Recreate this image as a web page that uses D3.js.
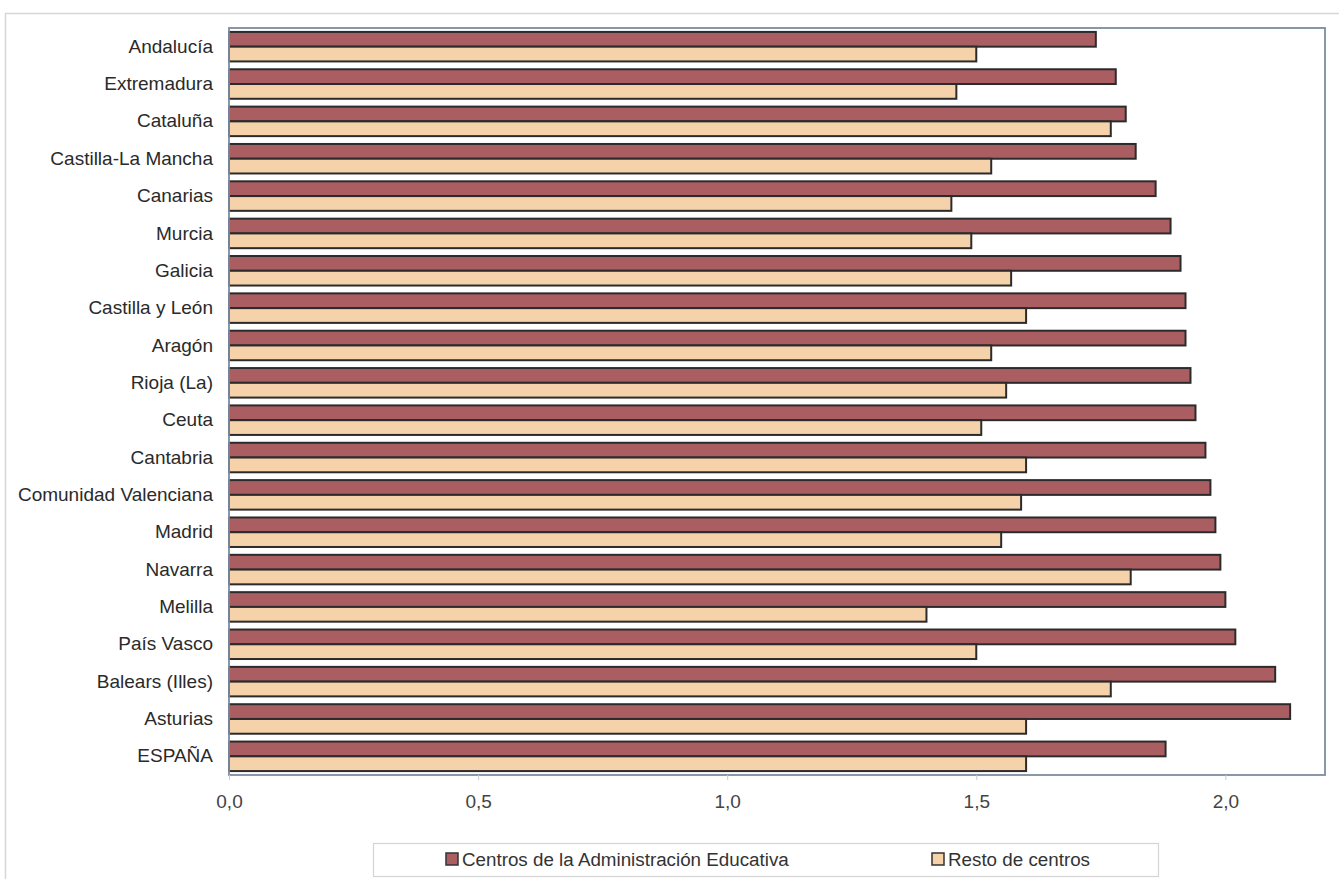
<!DOCTYPE html>
<html>
<head>
<meta charset="utf-8">
<script src="https://cdn.jsdelivr.net/npm/d3@7"></script>
<style>
  html, body { margin: 0; padding: 0; background: #ffffff; }
  svg { display: block; font-family: "Liberation Sans", Arial, sans-serif; }
</style>
</head>
<body>
<svg id="chart" width="1339" height="879"></svg>
<script>
const categories = ["Andalucía","Extremadura","Cataluña","Castilla-La Mancha","Canarias","Murcia","Galicia","Castilla y León","Aragón","Rioja (La)","Ceuta","Cantabria","Comunidad Valenciana","Madrid","Navarra","Melilla","País Vasco","Balears (Illes)","Asturias","ESPAÑA"];
const centrosAdmin = [1.74,1.78,1.80,1.82,1.86,1.89,1.91,1.92,1.92,1.93,1.94,1.96,1.97,1.98,1.99,2.00,2.02,2.10,2.13,1.88];
const restoCentros = [1.50,1.46,1.77,1.53,1.45,1.49,1.57,1.60,1.53,1.56,1.51,1.60,1.59,1.55,1.81,1.40,1.50,1.77,1.60,1.60];
const seriesNames = ["Centros de la Administración Educativa","Resto de centros"];
const tickValues = [0, 0.5, 1.0, 1.5, 2.0];
const xMax = 2.2;

const colors = {"Centros de la Administración Educativa": "#ab5e61", "Resto de centros": "#f5d2a9"};

const svg = d3.select("#chart");
const plot = {left: 229, right: 1325, top: 28, bottom: 775};

// outer chart frame
svg.append("rect").attr("x", 5.5).attr("y", 13.5).attr("width", 1340).attr("height", 880)
  .attr("fill", "none").attr("stroke", "#d6d6d6").attr("stroke-width", 1.5);

const x = d3.scaleLinear().domain([0, xMax]).range([plot.left, plot.right]);
const y = d3.scaleBand().domain(categories).range([plot.top, plot.bottom])
  .paddingInner(0.21).paddingOuter(0.105);
const ySub = d3.scaleBand().domain(seriesNames).range([0, y.bandwidth()]);

const rows = categories.map((c, i) => ({cat: c, vals: [centrosAdmin[i], restoCentros[i]]}));

// plot background
svg.append("rect").attr("x", plot.left).attr("y", plot.top)
  .attr("width", plot.right - plot.left).attr("height", plot.bottom - plot.top)
  .attr("fill", "#ffffff");

const g = svg.append("g");
rows.forEach(r => {
  seriesNames.forEach((s, j) => {
    g.append("rect")
      .attr("x", x(0))
      .attr("y", y(r.cat) + ySub(s))
      .attr("width", x(r.vals[j]) - x(0))
      .attr("height", ySub.bandwidth())
      .attr("fill", colors[s])
      .attr("stroke", "#2b2b2b")
      .attr("stroke-width", 2);
  });
});

// plot border
svg.append("rect").attr("x", plot.left).attr("y", plot.top)
  .attr("width", plot.right - plot.left).attr("height", plot.bottom - plot.top)
  .attr("fill", "none").attr("stroke", "#7d8ca0").attr("stroke-width", 1.8);

// x axis
const xAxis = d3.axisBottom(x).tickValues(tickValues)
  .tickFormat(d => d3.format(".1f")(d).replace(".", ","))
  .tickSize(5).tickPadding(15);
const xg = svg.append("g").attr("transform", `translate(0,${plot.bottom})`).call(xAxis);
xg.select(".domain").remove();
xg.selectAll(".tick line").attr("stroke", "#c8ccd4");
xg.selectAll(".tick text").attr("fill", "#444").style("font-size", "19px")
  .style("font-family", "'Liberation Sans', Arial, sans-serif");

// y axis labels
const yAxis = d3.axisLeft(y).tickSize(0).tickPadding(16);
const yg = svg.append("g").attr("transform", `translate(${plot.left},0)`).call(yAxis);
yg.select(".domain").remove();
yg.selectAll(".tick text").attr("fill", "#2a2a2a").style("font-size", "19px")
  .style("font-family", "'Liberation Sans', Arial, sans-serif");

// legend
const lg = svg.append("g");
lg.append("rect").attr("x", 373.5).attr("y", 843.5).attr("width", 785).attr("height", 33)
  .attr("fill", "#ffffff").attr("stroke", "#d4d4d4").attr("stroke-width", 1.2);
const legendX = [446, 932];
seriesNames.forEach((s, i) => {
  lg.append("rect").attr("x", legendX[i]).attr("y", 853).attr("width", 12).attr("height", 12)
    .attr("fill", colors[s]).attr("stroke", "#333").attr("stroke-width", 1.5);
  lg.append("text").attr("x", legendX[i] + 16).attr("y", 866)
    .attr("fill", "#333").style("font-size", "18.8px").text(s);
});
</script>
</body>
</html>
